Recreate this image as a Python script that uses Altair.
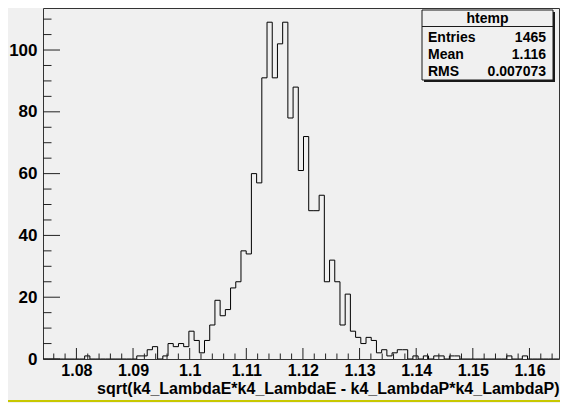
import altair as alt
import pandas as pd

# ---- data (100 bins) ----
x_min = 1.0741
x_max = 1.1661
counts = [0, 0, 0, 0, 0, 0, 0, 0, 1, 0,
          0, 0, 0, 0, 0, 0, 0, 0, 1, 1,
          3, 4, 0, 1, 5, 4, 5, 4, 9, 6,
          2, 6, 11, 19, 14, 16, 23, 25, 35, 34,
          60, 57, 91, 109, 91, 102, 109, 78, 88, 61,
          72, 48, 48, 53, 25, 32, 25, 11, 21, 9,
          7, 5, 7, 6, 2, 3, 1, 2, 3, 3,
          0, 1, 0, 1, 0, 1, 1, 0, 1, 1,
          0, 0, 0, 0, 0, 0, 0, 0, 0, 1,
          0, 0, 1, 0, 0, 0, 0, 0, 0, 0]

x_major = [1.08, 1.09, 1.10, 1.11, 1.12, 1.13, 1.14, 1.15, 1.16]
x_minor = [1.076, 1.078, 1.082, 1.084, 1.086, 1.088, 1.092, 1.094, 1.096, 1.098,
           1.102, 1.104, 1.106, 1.108, 1.112, 1.114, 1.116, 1.118, 1.122, 1.124,
           1.126, 1.128, 1.132, 1.134, 1.136, 1.138, 1.142, 1.144, 1.146, 1.148,
           1.152, 1.154, 1.156, 1.158, 1.162, 1.164]
y_major = [0, 20, 40, 60, 80, 100]
y_minor = [5, 10, 15, 25, 30, 35, 45, 50, 55, 65, 70, 75, 85, 90, 95, 105, 110]
y_max = 113.6

x_title = "sqrt(k4_LambdaE*k4_LambdaE - k4_LambdaP*k4_LambdaP)"
stat_name = "htemp"
stat_labels = ["Entries", "Mean", "RMS"]
stat_values = ["1465", "1.116", "0.007073"]

# ---- layout ----
FULL_W = 521          # plot width the full x range would need
W, H = 516, 351       # what fits in the 552px-wide page body
FONT = "Liberation Sans"
BG = "#f0f0f0"

n = len(counts)
bw = (x_max - x_min) / n
edges = [x_min + i * bw for i in range(n + 1)]
hist = pd.DataFrame({"x": edges, "y": counts + [0]})

x_hi = x_min + (x_max - x_min) * W / FULL_W
xs = alt.Scale(domain=[x_min, x_hi], nice=False, zero=False)
ys = alt.Scale(domain=[0, y_max], nice=False)

x_axis = alt.Axis(
    values=x_major, format="~g", title=x_title, grid=False, ticks=False,
    domain=False, labelFont=FONT, labelFontWeight="bold", labelFontSize=16,
    labelColor="black", labelPadding=3, labelFlush=False, labelOverlap=False,
    titleFont=FONT, titleFontWeight="bold", titleFontSize=16, titleColor="black",
    titleAnchor="end", titleAlign="right", titleBaseline="alphabetic",
    titleX=W, titleY=34)
y_axis = alt.Axis(
    values=y_major, title=None, grid=False, ticks=False, domain=False,
    labelFont=FONT, labelFontWeight="bold", labelFontSize=17,
    labelColor="black", labelPadding=6, labelOverlap=False)

hist_line = alt.Chart(hist).mark_line(
    interpolate="step-after", color="black", strokeWidth=1, clip=True
).encode(
    x=alt.X("x:Q", scale=xs, axis=x_axis),
    y=alt.Y("y:Q", scale=ys, axis=y_axis),
)

TICK = "#222222"
xmaj = alt.Chart(pd.DataFrame({"x": x_major})).mark_rule(color=TICK, strokeWidth=1).encode(
    x=alt.X("x:Q", scale=xs, axis=x_axis), y=alt.value(H), y2=alt.value(H - 11))
xmin_t = alt.Chart(pd.DataFrame({"x": x_minor})).mark_rule(color=TICK, strokeWidth=1).encode(
    x=alt.X("x:Q", scale=xs, axis=x_axis), y=alt.value(H), y2=alt.value(H - 5.5))
ymaj = alt.Chart(pd.DataFrame({"y": y_major})).mark_rule(color=TICK, strokeWidth=1).encode(
    y=alt.Y("y:Q", scale=ys, axis=y_axis), x=alt.value(0), x2=alt.value(17))
ymin_t = alt.Chart(pd.DataFrame({"y": y_minor})).mark_rule(color=TICK, strokeWidth=1).encode(
    y=alt.Y("y:Q", scale=ys, axis=y_axis), x=alt.value(0), x2=alt.value(8.5))

one = pd.DataFrame({"a": [0]})
bx0, bx1, by0, by1 = 379, 510, 2, 72
shadow = alt.Chart(one).mark_rect(color="#1a1a1a").encode(
    x=alt.value(bx0 + 2), x2=alt.value(bx1 + 2), y=alt.value(by0 + 2), y2=alt.value(by1 + 2))
box = alt.Chart(one).mark_rect(fill=BG, stroke="#1a1a1a", strokeWidth=1).encode(
    x=alt.value(bx0), x2=alt.value(bx1), y=alt.value(by0), y2=alt.value(by1))
sep = alt.Chart(one).mark_rule(color="#1a1a1a", strokeWidth=1).encode(
    x=alt.value(bx0), x2=alt.value(bx1), y=alt.value(18.5))
title_t = alt.Chart(pd.DataFrame({"t": [stat_name]})).mark_text(
    font=FONT, fontWeight="bold", fontSize=14, color="black", align="center", baseline="middle"
).encode(text="t:N", x=alt.value((bx0 + bx1) / 2), y=alt.value(11))

stat_layers = []
row_y = [29.5, 46.5, 63.5]
for lab, val, ry in zip(stat_labels, stat_values, row_y):
    d = pd.DataFrame({"l": [lab], "v": [val]})
    stat_layers.append(alt.Chart(d).mark_text(
        font=FONT, fontWeight="bold", fontSize=14, color="black", align="left", baseline="middle"
    ).encode(text="l:N", x=alt.value(bx0 + 6), y=alt.value(ry)))
    stat_layers.append(alt.Chart(d).mark_text(
        font=FONT, fontWeight="bold", fontSize=14, color="black", align="right", baseline="middle"
    ).encode(text="v:N", x=alt.value(bx1 - 7), y=alt.value(ry)))

yellow = alt.Chart(one).mark_rule(color="#c8c800", strokeWidth=2).encode(
    x=alt.value(-35), x2=alt.value(W + 1), y=alt.value(393))

chart = alt.layer(
    hist_line, xmaj, xmin_t, ymaj, ymin_t, shadow, box, sep, title_t, *stat_layers, yellow
).properties(
    width=W, height=H, background=BG,
    padding={"left": 35, "top": 0, "right": 1, "bottom": 44},
    autosize=alt.AutoSizeParams(type="none"),
).configure_view(stroke="#333333", strokeWidth=1)

chart.save("out.html", embed_options={"renderer": "svg", "actions": False})
